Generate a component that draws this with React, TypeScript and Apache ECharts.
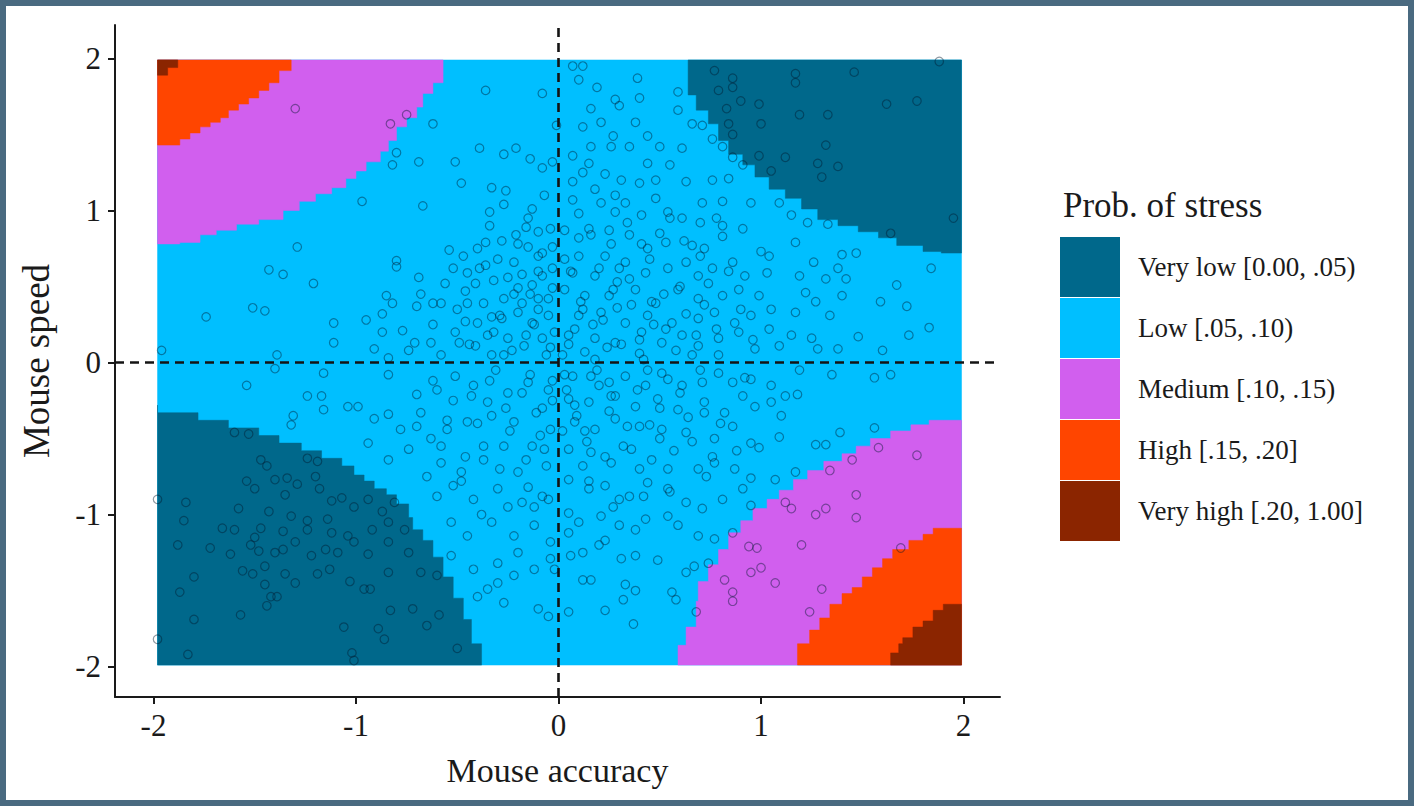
import React, { useEffect, useRef } from "react";
import * as echarts from "echarts";

// ---------- axes ----------
const xTicks = [-2, -1, 0, 1, 2];
const yTicks = [-2, -1, 0, 1, 2];
const xRange = [-2.19, 2.18];
const yRange = [-2.2, 2.22];

// ---------- legend categories ----------
const categories = [
  "Very low [0.00, .05)",
  "Low [.05, .10)",
  "Medium [.10, .15)",
  "High [.15, .20]",
  "Very high [.20, 1.00]",
];
const categoryColors = ["#00688B", "#00BFFF", "#D15FEE", "#FF4500", "#8B2500"];

// ---------- region boundaries ----------
const rasterExtent = [[-1.98, 1.99], [1.99, 1.99], [1.99, -1.99], [-1.98, -1.99]];

const veryLowTopRight = [
  [0.64, 1.99], [0.64, 1.9], [0.68, 1.76], [0.74, 1.66], [0.79, 1.57], [0.84, 1.46], [0.91, 1.37],
  [0.97, 1.3], [1.04, 1.22], [1.12, 1.14], [1.2, 1.08], [1.28, 1.01], [1.38, 0.94], [1.48, 0.9],
  [1.58, 0.86], [1.67, 0.82], [1.8, 0.77], [1.89, 0.73], [1.99, 0.72], [1.99, 1.99],
];
const veryLowBottomLeft = [
  [-1.98, -0.28], [-1.78, -0.33], [-1.63, -0.38], [-1.48, -0.43], [-1.38, -0.48], [-1.27, -0.53],
  [-1.17, -0.58], [-1.07, -0.63], [-1.01, -0.68], [-0.96, -0.74], [-0.91, -0.78], [-0.85, -0.83],
  [-0.8, -0.87], [-0.74, -0.93], [-0.72, -1.02], [-0.67, -1.1], [-0.62, -1.17], [-0.57, -1.28],
  [-0.52, -1.41], [-0.47, -1.55], [-0.43, -1.69], [-0.38, -1.85], [-0.38, -1.99], [-1.98, -1.99],
];
const mediumTopLeft = [
  [-0.57, 1.99], [-0.57, 1.89], [-0.62, 1.84], [-0.67, 1.77], [-0.7, 1.68], [-0.75, 1.61],
  [-0.8, 1.55], [-0.84, 1.46], [-0.88, 1.39], [-0.95, 1.32], [-1.0, 1.26], [-1.05, 1.21],
  [-1.12, 1.15], [-1.2, 1.11], [-1.28, 1.06], [-1.36, 1.0], [-1.48, 0.94], [-1.59, 0.91],
  [-1.69, 0.87], [-1.77, 0.84], [-1.87, 0.79], [-1.98, 0.78], [-1.98, 1.99],
];
const mediumBottomRight = [
  [0.59, -1.99], [0.63, -1.86], [0.68, -1.74], [0.69, -1.57], [0.74, -1.44], [0.79, -1.33],
  [0.84, -1.23], [0.9, -1.12], [0.96, -1.04], [1.03, -0.96], [1.09, -0.9], [1.16, -0.84],
  [1.23, -0.77], [1.31, -0.71], [1.4, -0.65], [1.47, -0.6], [1.54, -0.55], [1.64, -0.5],
  [1.74, -0.45], [1.83, -0.41], [1.9, -0.38], [1.99, -0.38], [1.99, -1.99],
];
const highTopLeft = [
  [-1.32, 1.99], [-1.38, 1.92], [-1.43, 1.84], [-1.48, 1.79], [-1.53, 1.74], [-1.58, 1.7],
  [-1.63, 1.66], [-1.67, 1.61], [-1.72, 1.58], [-1.77, 1.55], [-1.82, 1.51], [-1.87, 1.47],
  [-1.92, 1.43], [-1.98, 1.43], [-1.98, 1.99],
];
const highBottomRight = [
  [1.18, -1.99], [1.24, -1.85], [1.29, -1.76], [1.34, -1.68], [1.4, -1.59], [1.45, -1.52],
  [1.5, -1.48], [1.55, -1.41], [1.6, -1.35], [1.65, -1.29], [1.73, -1.23], [1.8, -1.17],
  [1.85, -1.13], [1.9, -1.09], [1.99, -1.09], [1.99, -1.99],
];
const veryHighTopLeft = [
  [-1.88, 1.99], [-1.88, 1.94], [-1.93, 1.94], [-1.93, 1.89], [-1.98, 1.89], [-1.98, 1.99],
];
const veryHighBottomRight = [
  [1.64, -1.99], [1.68, -1.91], [1.7, -1.85], [1.75, -1.81], [1.8, -1.74], [1.85, -1.7],
  [1.9, -1.63], [1.95, -1.59], [1.99, -1.59], [1.99, -1.99],
];

// ---------- observations (mouse accuracy, mouse speed) ----------
const pointsUpperLeft = [
  [-1.3, 1.67], [-0.75, 1.63], [-0.83, 1.57], [-0.62, 1.57], [-0.36, 1.79], [-0.08, 1.77], [-0.01, 1.56],
  [-0.8, 1.38], [-0.82, 1.3], [-0.69, 1.32], [-0.51, 1.32], [-0.39, 1.41], [-0.27, 1.37], [-0.21, 1.41],
  [-0.14, 1.34], [-0.08, 1.28], [-0.03, 1.32], [-0.48, 1.18], [-0.33, 1.15], [-0.26, 1.13], [-0.07, 1.1],
  [-0.97, 1.06], [-0.67, 1.03], [-0.27, 1.04], [-0.13, 1.01], [-0.34, 0.99], [-0.34, 0.9], [-0.16, 0.89],
  [-0.1, 0.86], [-0.21, 0.84], [-0.04, 0.88], [-1.29, 0.76], [-0.54, 0.74], [-0.47, 0.7], [-0.4, 0.75],
  [-0.36, 0.79], [-0.28, 0.8], [-0.15, 0.76], [-0.1, 0.7], [-0.03, 0.76], [-0.8, 0.67], [-0.8, 0.63],
  [-1.43, 0.61], [-1.36, 0.58], [-1.21, 0.52], [-0.69, 0.56], [-0.45, 0.59], [-0.36, 0.64], [-0.32, 0.54],
  [-0.25, 0.56], [-0.2, 0.49], [-0.13, 0.51], [-0.08, 0.57], [-0.03, 0.62], [-0.03, 0.49], [-0.85, 0.44],
  [-0.82, 0.39], [-0.46, 0.47], [-0.45, 0.39], [-0.37, 0.39], [-0.27, 0.42], [-0.18, 0.39], [-0.1, 0.42],
  [-1.51, 0.36], [-1.45, 0.34], [-1.74, 0.3], [-0.87, 0.32], [-0.7, 0.37], [-0.62, 0.39], [-0.58, 0.39],
  [-0.4, 0.26], [-0.28, 0.29], [-0.2, 0.33], [-0.13, 0.26], [-0.05, 0.31], [-1.11, 0.26], [-1.11, 0.13],
  [-0.95, 0.28], [-0.87, 0.2], [-0.77, 0.21], [-0.71, 0.13], [-0.63, 0.13], [-0.51, 0.2], [-0.49, 0.13],
  [-0.41, 0.11], [-0.32, 0.2], [-0.25, 0.16], [-0.17, 0.11], [-0.08, 0.16], [-0.02, 0.2], [-1.39, 0.05],
  [-0.91, 0.09], [-1.96, 0.08], [-0.58, 0.05], [-0.33, 0.05], [-0.84, 0.03],
  [-0.05, 0.42], [-0.12, 0.25], [-0.18, 0.58], [-0.23, 0.08], [-0.29, 0.31], [-0.35, 0.18], [-0.41, 0.52],
  [-0.46, 0.27], [-0.52, 0.62], [-0.08, 0.72], [-0.15, 0.95], [-0.22, 0.66], [-0.06, 0.05], [-0.14, 0.45],
];
const pointsUpperRight = [
  [0.07, 1.95], [0.12, 1.95], [0.1, 1.86], [0.19, 1.81], [0.39, 1.87], [0.77, 1.92], [0.86, 1.87],
  [0.86, 1.81], [1.17, 1.9], [1.17, 1.84], [1.46, 1.91], [1.88, 1.98], [0.79, 1.79], [0.9, 1.72],
  [0.99, 1.7], [0.83, 1.67], [1.19, 1.63], [1.33, 1.63], [1.62, 1.7], [1.77, 1.72], [0.84, 1.57],
  [1.0, 1.57], [0.86, 1.5], [1.32, 1.43], [0.99, 1.36], [1.12, 1.35], [1.28, 1.31], [1.38, 1.29],
  [1.3, 1.22], [1.05, 1.26], [1.95, 0.95], [1.64, 0.85], [0.59, 1.78], [0.28, 1.73], [0.4, 1.74],
  [0.16, 1.67], [0.3, 1.69], [0.59, 1.66], [0.38, 1.58], [0.12, 1.55], [0.21, 1.58], [0.27, 1.49],
  [0.66, 1.57], [0.71, 1.56], [0.44, 1.49], [0.76, 1.47], [0.07, 1.36], [0.16, 1.42], [0.26, 1.42],
  [0.35, 1.42], [0.5, 1.42], [0.61, 1.41], [0.81, 1.42], [0.86, 1.35], [0.44, 1.31], [0.55, 1.3],
  [0.15, 1.31], [0.23, 1.24], [0.31, 1.2], [0.4, 1.18], [0.63, 1.19], [0.76, 1.2], [0.91, 1.3],
  [0.84, 1.21], [0.07, 1.19], [0.18, 1.14], [0.07, 1.07], [0.21, 1.05], [0.33, 1.05], [0.48, 1.08],
  [0.71, 1.05], [0.81, 1.06], [0.95, 1.05], [1.09, 1.05], [1.15, 0.97], [1.23, 0.92], [1.33, 0.91],
  [0.1, 0.98], [0.28, 0.99], [0.41, 0.97], [0.54, 0.99], [0.61, 0.95], [0.7, 0.92], [0.81, 0.9],
  [0.91, 0.88], [0.03, 0.87], [0.16, 0.84], [0.25, 0.87], [0.35, 0.84], [0.44, 0.75], [0.53, 0.79],
  [0.66, 0.77], [0.72, 0.75], [0.81, 0.83], [1.0, 0.73], [1.04, 0.7], [1.17, 0.79], [1.4, 0.71],
  [1.47, 0.72], [1.26, 0.66], [1.38, 0.62], [1.84, 0.62], [1.67, 0.51], [1.72, 0.37], [1.59, 0.4],
  [1.83, 0.23], [1.73, 0.18], [1.48, 0.17], [1.6, 0.08], [0.1, 0.7], [0.23, 0.7], [0.33, 0.66],
  [0.07, 0.59], [0.18, 0.57], [0.29, 0.53], [0.43, 0.59], [0.54, 0.62], [0.63, 0.66], [0.69, 0.57],
  [0.76, 0.62], [0.86, 0.66], [0.92, 0.57], [1.03, 0.59], [1.19, 0.57], [1.32, 0.55], [1.42, 0.55],
  [0.03, 0.48], [0.13, 0.44], [0.25, 0.44], [0.38, 0.48], [0.48, 0.39], [0.59, 0.48], [0.69, 0.42],
  [0.81, 0.44], [0.89, 0.48], [0.99, 0.44], [1.05, 0.35], [1.17, 0.33], [1.22, 0.46], [1.27, 0.4],
  [1.34, 0.31], [1.4, 0.44], [0.1, 0.31], [0.21, 0.33], [0.33, 0.26], [0.44, 0.31], [0.56, 0.26],
  [0.69, 0.29], [0.77, 0.33], [0.87, 0.26], [0.95, 0.31], [1.04, 0.22], [1.15, 0.18], [1.25, 0.16],
  [1.38, 0.09], [0.05, 0.18], [0.18, 0.16], [0.28, 0.13], [0.41, 0.2], [0.51, 0.13], [0.61, 0.18],
  [0.69, 0.11], [0.79, 0.16], [0.89, 0.2], [0.97, 0.09], [1.09, 0.11], [1.28, 0.09], [0.13, 0.07],
  [0.4, 0.06], [0.02, 0.05], [0.08, 0.22], [0.12, 0.35], [0.18, 0.02], [0.22, 0.28], [0.27, 0.48],
  [0.31, 0.12], [0.36, 0.38], [0.42, 0.02], [0.47, 0.25], [0.52, 0.45], [0.58, 0.08], [0.63, 0.32],
  [0.68, 0.18], [0.74, 0.52], [0.79, 0.05], [0.3, 0.62], [0.41, 0.78], [0.15, 0.88], [0.06, 0.6],
  [0.55, 0.95], [0.28, 1.1], [0.48, 1.2], [0.12, 1.25],
];
const pointsLowerLeft = [
  [-1.4, -0.04], [-1.54, -0.15], [-1.24, -0.22], [-1.17, -0.22], [-1.16, -0.31], [-1.31, -0.35],
  [-1.32, -0.41], [-1.6, -0.46], [-1.53, -0.47], [-1.47, -0.64], [-1.44, -0.68], [-1.24, -0.63],
  [-1.19, -0.65], [-1.2, -0.75], [-1.34, -0.76], [-1.4, -0.77], [-1.54, -0.78], [-1.5, -0.83],
  [-1.29, -0.8], [-1.18, -0.83], [-1.35, -0.87], [-1.84, -0.92], [-1.58, -0.96], [-1.43, -0.98],
  [-1.32, -1.01], [-1.24, -1.04], [-1.14, -1.03], [-1.12, -0.91], [-1.07, -0.89], [-1.01, -0.95],
  [-0.94, -0.9], [-0.87, -0.98], [-0.81, -0.92], [-1.85, -1.04], [-1.66, -1.09], [-1.6, -1.1],
  [-1.47, -1.09], [-1.5, -1.15], [-1.36, -1.11], [-1.24, -1.1], [-1.12, -1.12], [-1.04, -1.14],
  [-0.92, -1.1], [-0.84, -1.05], [-0.76, -1.1], [-1.88, -1.2], [-1.72, -1.22], [-1.62, -1.26],
  [-1.52, -1.2], [-1.48, -1.24], [-1.4, -1.25], [-1.36, -1.23], [-1.3, -1.18], [-1.22, -1.27],
  [-1.15, -1.23], [-1.09, -1.25], [-1.01, -1.18], [-0.94, -1.26], [-0.84, -1.18], [-0.74, -1.25],
  [-1.8, -1.41], [-1.56, -1.37], [-1.51, -1.39], [-1.45, -1.34], [-1.35, -1.39], [-1.3, -1.45],
  [-1.19, -1.39], [-1.13, -1.36], [-1.03, -1.44], [-0.96, -1.49], [-0.93, -1.49], [-0.84, -1.38],
  [-0.68, -1.38], [-0.6, -1.4], [-1.87, -1.51], [-1.45, -1.46], [-1.42, -1.54], [-1.39, -1.54],
  [-1.44, -1.6], [-1.57, -1.66], [-1.8, -1.69], [-0.83, -1.63], [-0.72, -1.62], [-0.59, -1.66],
  [-1.06, -1.74], [-0.89, -1.75], [-0.86, -1.82], [-0.65, -1.73], [-0.5, -1.88], [-1.83, -1.92],
  [-1.02, -1.91], [-1.01, -1.96], [-1.98, -0.9], [-1.98, -1.82],
  [-1.04, -0.29], [-0.99, -0.29], [-0.91, -0.37], [-0.84, -0.34], [-0.78, -0.44], [-0.68, -0.33],
  [-0.6, -0.18], [-0.51, -0.09], [-0.42, -0.15], [-0.35, -0.26], [-0.25, -0.2], [-0.15, -0.13],
  [-0.05, -0.18], [-0.7, -0.21], [-0.84, -0.08], [-1.16, -0.07], [-0.94, -0.53], [-0.84, -0.64],
  [-0.74, -0.57], [-0.63, -0.5], [-0.55, -0.44], [-0.45, -0.39], [-0.33, -0.35], [-0.22, -0.39],
  [-0.11, -0.33], [-0.04, -0.44], [-0.58, -0.66], [-0.48, -0.72], [-0.37, -0.64], [-0.27, -0.55],
  [-0.16, -0.64], [-0.07, -0.57], [-0.6, -0.88], [-0.52, -0.81], [-0.42, -0.9], [-0.3, -0.83],
  [-0.18, -0.92], [-0.08, -0.88], [-0.53, -1.05], [-0.45, -1.14], [-0.33, -1.05], [-0.22, -1.14],
  [-0.12, -1.07], [-0.04, -1.18], [-0.53, -1.27], [-0.42, -1.36], [-0.3, -1.32], [-0.22, -1.4],
  [-0.12, -1.36], [-0.04, -1.29], [-0.4, -1.54], [-0.35, -1.49], [-0.27, -1.58], [-0.1, -1.62],
  [-0.05, -1.67], [-0.02, -1.36], [-0.03, -0.25], [-0.09, -0.48], [-0.14, -0.08], [-0.2, -0.72],
  [-0.26, -0.3], [-0.31, -0.05], [-0.37, -0.55], [-0.43, -0.22], [-0.48, -0.78], [-0.55, -0.38],
  [-0.62, -0.12], [-0.12, -0.95], [-0.06, -0.68],
];
const pointsLowerRight = [
  [0.07, -0.09], [0.16, -0.09], [0.25, -0.13], [0.33, -0.09], [0.43, -0.15], [0.54, -0.11], [0.61, -0.15],
  [0.71, -0.13], [0.79, -0.07], [0.86, -0.13], [0.95, -0.11], [1.05, -0.15], [1.19, -0.05], [1.35, -0.08],
  [1.56, -0.1], [1.64, -0.08], [0.05, -0.24], [0.15, -0.26], [0.26, -0.22], [0.38, -0.29], [0.49, -0.24],
  [0.59, -0.31], [0.72, -0.26], [0.82, -0.33], [0.91, -0.22], [0.97, -0.29], [1.05, -0.26], [1.12, -0.22],
  [1.18, -0.21], [1.1, -0.35], [0.08, -0.39], [0.18, -0.44], [0.28, -0.37], [0.4, -0.42], [0.51, -0.44],
  [0.63, -0.46], [0.72, -0.33], [0.77, -0.5], [0.86, -0.42], [0.95, -0.53], [0.99, -0.56], [1.09, -0.49],
  [1.27, -0.54], [1.32, -0.54], [1.39, -0.46], [1.56, -0.43], [0.05, -0.57], [0.16, -0.59], [0.26, -0.66],
  [0.36, -0.57], [0.46, -0.64], [0.54, -0.7], [0.69, -0.7], [0.77, -0.66], [0.87, -0.7], [0.95, -0.76],
  [1.07, -0.77], [1.17, -0.72], [1.45, -0.64], [1.58, -0.56], [1.77, -0.61], [0.05, -0.77], [0.15, -0.83],
  [0.23, -0.81], [0.35, -0.88], [0.44, -0.79], [0.54, -0.83], [0.63, -0.92], [0.71, -0.96], [0.81, -0.9],
  [0.91, -0.83], [0.95, -0.94], [1.12, -0.92], [1.15, -0.96], [1.27, -1.0], [1.32, -0.96], [1.47, -0.87],
  [1.47, -1.02], [1.34, -0.71], [0.05, -0.99], [0.1, -1.05], [0.21, -1.01], [0.3, -1.07], [0.38, -1.1],
  [0.43, -1.03], [0.54, -1.01], [0.59, -1.07], [0.69, -1.14], [0.77, -1.16], [0.86, -1.12], [0.94, -1.21],
  [0.98, -1.22], [1.2, -1.2], [1.69, -1.22], [0.23, -1.17], [0.06, -1.27], [0.12, -1.25], [0.31, -1.29],
  [0.38, -1.27], [0.49, -1.3], [0.63, -1.38], [0.67, -1.34], [0.74, -1.32], [0.95, -1.38], [1.0, -1.35],
  [0.82, -1.43], [0.86, -1.51], [1.07, -1.45], [1.3, -1.49], [0.12, -1.43], [0.16, -1.43], [0.33, -1.46],
  [0.38, -1.5], [0.56, -1.51], [0.58, -1.56], [0.32, -1.56], [0.86, -1.57], [0.05, -1.64], [0.23, -1.63],
  [0.68, -1.64], [1.24, -1.64], [0.37, -1.72], [0.04, -0.18], [0.09, -0.35], [0.14, -0.52], [0.2, -0.15],
  [0.25, -0.32], [0.32, -0.55], [0.39, -0.18], [0.45, -0.41], [0.51, -0.07], [0.57, -0.58], [0.64, -0.36],
  [0.7, -0.05], [0.76, -0.62], [0.12, -0.68], [0.3, -0.9], [0.5, -0.5], [0.02, -0.45],
];
const pointsCentre = [
  [0.05, 0.12], [0.11, 0.4], [0.17, 0.25], [0.24, 0.1], [0.29, 0.36], [0.35, 0.55], [0.4, 0.15], [0.46, 0.4],
  [0.53, 0.22], [0.6, 0.5], [0.66, 0.05], [0.72, 0.38], [0.78, 0.22], [0.84, 0.6], [0.9, 0.35], [0.96, 0.15],
  [0.03, 0.68], [0.1, 0.82], [0.2, 0.62], [0.26, 0.78], [0.34, 0.92], [0.45, 0.68], [0.5, 0.85], [0.62, 0.8],
  [0.7, 0.7], [0.78, 0.95], [-0.04, 0.1], [-0.1, 0.35], [-0.16, 0.18], [-0.22, 0.45], [-0.27, 0.05],
  [-0.33, 0.3], [-0.39, 0.62], [-0.44, 0.12], [-0.5, 0.35], [-0.56, 0.52], [-0.62, 0.25], [-0.68, 0.45],
  [-0.74, 0.08], [-0.1, 0.6], [-0.2, 0.78], [-0.3, 0.68], [0.03, -0.08], [0.08, -0.28], [0.13, -0.45],
  [0.19, -0.05], [0.23, -0.62], [0.28, -0.22], [0.34, -0.42], [0.4, -0.7], [0.44, -0.05], [0.5, -0.3],
  [0.55, -0.85], [0.6, -0.2], [0.66, -0.52], [0.73, -0.75], [0.8, -0.4], [0.88, -0.58], [0.92, -0.1],
  [-0.03, -0.12], [-0.08, -0.3], [-0.13, -0.55], [-0.18, -0.2], [-0.24, -0.45], [-0.29, -0.7],
  [-0.34, -0.12], [-0.4, -0.4], [-0.46, -0.62], [-0.52, -0.25], [-0.58, -0.55], [-0.65, -0.75],
  [-0.7, -0.42], [-0.15, -0.82], [-0.25, -0.95], [-0.38, -1.0], [-0.05, -0.9], [0.15, -0.78],
  [0.27, -0.95], [0.42, -0.88], [0.2, -1.2], [0.05, -1.12], [-0.2, -1.25], [-0.3, -1.45],
];

const fontFamily = "'Liberation Serif', 'Times New Roman', serif";

// draws a boundary the way a raster does: each slanted segment becomes one step
function toSteps(pixels: number[][]) {
  const out: number[][] = [];
  for (let i = 0; i < pixels.length; i++) {
    const p = pixels[i];
    if (i > 0) {
      const q = pixels[i - 1];
      if (Math.abs(p[0] - q[0]) > 0.5 && Math.abs(p[1] - q[1]) > 0.5) out.push([q[0], p[1]]);
    }
    out.push(p);
  }
  return out;
}

function regionSeries(name: string, color: string, polys: number[][][], z: number) {
  return {
    name,
    type: "custom",
    coordinateSystem: "cartesian2d",
    silent: true,
    z,
    itemStyle: { color },
    data: polys.map((poly, i) => [poly[0][0], poly[0][1], i]),
    renderItem: (params: any, api: any) => {
      const poly = polys[params.dataIndex];
      const pixels = poly.map((p) => api.coord(p));
      return {
        type: "polygon",
        shape: { points: toSteps(pixels) },
        style: { fill: color, stroke: color, lineWidth: 0.5 },
      };
    },
  };
}

export default function App() {
  const ref = useRef<HTMLDivElement>(null);
  useEffect(() => {
    if (!ref.current) return;
    const chart = echarts.init(ref.current, undefined, { renderer: "svg" });
    const points = [
      ...pointsUpperLeft,
      ...pointsUpperRight,
      ...pointsLowerLeft,
      ...pointsLowerRight,
      ...pointsCentre,
    ];
    const option: any = {
      animation: false,
      backgroundColor: "#ffffff",
      textStyle: { fontFamily },
      grid: { left: 115, right: 414, top: 25, bottom: 109, containLabel: false },
      title: {
        text: "Prob. of stress",
        left: 1058,
        top: 183,
        textStyle: { fontFamily, fontSize: 35, fontWeight: "normal", color: "#1a1a1a" },
      },
      legend: {
        data: categories,
        orient: "vertical",
        left: 1060,
        top: 237,
        itemWidth: 60,
        itemHeight: 60,
        itemGap: 1,
        icon: "rect",
        selectedMode: false,
        padding: 0,
        textStyle: { fontFamily, fontSize: 27, color: "#1a1a1a", padding: [0, 0, 0, 13] },
      },
      xAxis: {
        type: "value",
        min: xRange[0],
        max: xRange[1],
        name: "Mouse accuracy",
        nameLocation: "middle",
        nameGap: 56,
        nameTextStyle: { fontFamily, fontSize: 34, color: "#1a1a1a" },
        axisLine: { show: true, onZero: false, lineStyle: { color: "#1a1a1a", width: 2 } },
        axisTick: { show: true, length: 7, lineStyle: { color: "#1a1a1a", width: 2 }, customValues: xTicks },
        axisLabel: { fontFamily, fontSize: 31, color: "#1a1a1a", margin: 13, customValues: xTicks },
        splitLine: { show: false },
      },
      yAxis: {
        type: "value",
        min: yRange[0],
        max: yRange[1],
        name: "Mouse speed",
        nameLocation: "middle",
        nameGap: 60,
        nameRotate: 90,
        nameTextStyle: { fontFamily, fontSize: 37, color: "#1a1a1a" },
        axisLine: { show: true, onZero: false, lineStyle: { color: "#1a1a1a", width: 2 } },
        axisTick: { show: true, length: 7, lineStyle: { color: "#1a1a1a", width: 2 }, customValues: yTicks },
        axisLabel: { fontFamily, fontSize: 31, color: "#1a1a1a", margin: 14, customValues: yTicks },
        splitLine: { show: false },
      },
      series: [
        regionSeries(categories[1], categoryColors[1], [rasterExtent], 1),
        regionSeries(categories[0], categoryColors[0], [veryLowTopRight, veryLowBottomLeft], 2),
        regionSeries(categories[2], categoryColors[2], [mediumTopLeft, mediumBottomRight], 3),
        regionSeries(categories[3], categoryColors[3], [highTopLeft, highBottomRight], 4),
        regionSeries(categories[4], categoryColors[4], [veryHighTopLeft, veryHighBottomRight], 5),
        {
          name: "observations",
          type: "scatter",
          silent: true,
          z: 6,
          symbol: "circle",
          symbolSize: 8.5,
          itemStyle: { color: "rgba(0,0,0,0)", borderColor: "rgba(0,25,45,0.55)", borderWidth: 1.2 },
          data: points,
          markLine: {
            silent: true,
            symbol: "none",
            label: { show: false },
            lineStyle: { color: "#141414", width: 2.6, type: [9, 6] },
            data: [{ xAxis: 0 }, { yAxis: 0 }],
          },
        },
      ],
      graphic: [
        {
          type: "rect",
          silent: true,
          shape: { x: 3, y: 3, width: 1408, height: 800 },
          style: { fill: "none", stroke: "#4a6a80", lineWidth: 6 },
          z: 100,
        },
      ],
    };
    chart.setOption(option);
    return () => chart.dispose();
  }, []);
  return (
    <div
      ref={ref}
      style={{ position: "absolute", left: 0, top: 0, width: 1414, height: 806 }}
    />
  );
}
